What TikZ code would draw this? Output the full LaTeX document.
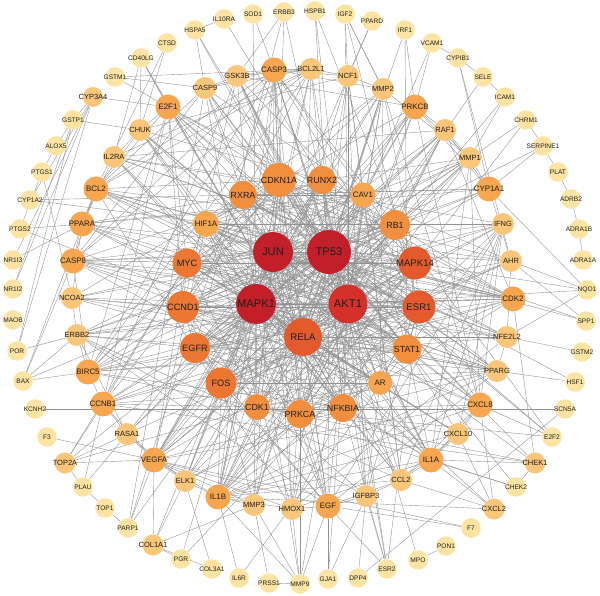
\documentclass[tikz,border=0pt]{standalone}
\usepackage{fontspec}
\setmainfont{Liberation Sans}
\definecolor{c1}{HTML}{C21F2B}
\definecolor{c2}{HTML}{D3322B}
\definecolor{c3}{HTML}{E35A2D}
\definecolor{c4}{HTML}{EC7733}
\definecolor{c5}{HTML}{F28F3E}
\definecolor{c6}{HTML}{F6A64E}
\definecolor{c7}{HTML}{FAC67A}
\definecolor{c8}{HTML}{FDE4A2}
\definecolor{edgecol}{HTML}{929292}
\pgfdeclarelayer{bg}
\pgfsetlayers{bg,main}
\tikzset{
 gene/.style={circle,inner sep=0pt,draw=none},
 lab/.style={inner sep=0pt,text=black!88},
 o/.style={gene,fill=c8,minimum size=19.5pt,label={[lab,font=\fontsize{6.6}{7}\selectfont]center:#1}},
 m7/.style={gene,fill=c7,minimum size=22pt,label={[lab,font=\fontsize{7.5}{8}\selectfont]center:#1}},
 m6/.style={gene,fill=c6,minimum size=25pt,label={[lab,font=\fontsize{7.9}{8}\selectfont]center:#1}},
 i5/.style={gene,fill=c5,minimum size=28pt,label={[lab,font=\fontsize{8.9}{9}\selectfont]center:#1}},
 i4/.style={gene,fill=c4,minimum size=30pt,label={[lab,font=\fontsize{9.2}{10}\selectfont]center:#1}},
 i3/.style={gene,fill=c3,minimum size=33pt,label={[lab,font=\fontsize{9.6}{10}\selectfont]center:#1}},
 core/.style={gene,fill=c1,minimum size=40pt,label={[lab,font=\fontsize{11.2}{12}\selectfont]center:#1}},
 e/.style={draw=edgecol,line width=0.38pt},
}
\newcommand\G[5][]{\node[#5={#2},#1] (#2) at (#3,#4) {};}
\begin{document}
\begin{tikzpicture}[x=1pt,y=-1pt]
\useasboundingbox (0,0) rectangle (600,596);
% outer ring
\G{IL10RA}{224}{19}{o}
\G{SOD1}{253}{14}{o}
\G{ERBB3}{284}{12}{o}
\G{HSPB1}{315}{11}{o}
\G{IGF2}{345}{14}{o}
\G{PPARD}{372}{21}{o}
\G{IRF1}{405}{30}{o}
\G{VCAM1}{432}{43}{o}
\G{CYPIB1}{458}{58}{o}
\G{SELE}{483}{77}{o}
\G{ICAM1}{505}{97}{o}
\G{CHRM1}{526}{120}{o}
\G{SERPINE1}{543}{146}{o}
\G{PLAT}{558}{172}{o}
\G{ADRB2}{571}{199}{o}
\G{ADRA1B}{579}{229}{o}
\G{ADRA1A}{583}{260}{o}
\G{NQO1}{587}{290}{o}
\G{SPP1}{586}{321}{o}
\G{GSTM2}{582}{352}{o}
\G{HSF1}{575}{382}{o}
\G{SCN5A}{565}{409}{o}
\G{E2F2}{552}{437}{o}
\G[minimum size=21pt]{CHEK1}{535}{463}{m7}
\G{CHEK2}{516}{487}{o}
\G[minimum size=21pt]{CXCL2}{494}{509}{m7}
\G{F7}{471}{528}{o}
\G{PON1}{446}{546}{o}
\G{MPO}{418}{560}{o}
\G{ESR2}{387}{569}{o}
\G{DPP4}{358}{578}{o}
\G{GJA1}{328}{579}{o}
\G{MMP9}{300}{584}{o}
\G{PRSS1}{269}{583}{o}
\G{IL6R}{239}{578}{o}
\G{COL3A1}{212}{569}{o}
\G{PGR}{181}{559}{o}
\G[minimum size=21pt]{COL1A1}{153}{545}{m7}
\G{PARP1}{128}{528}{o}
\G{TOP1}{105}{508}{o}
\G{PLAU}{83}{487}{o}
\G[minimum size=21pt]{TOP2A}{65}{463}{m7}
\G{F3}{47}{437}{o}
\G{KCNH2}{35}{409}{o}
\G{BAX}{23}{381}{o}
\G{POR}{17}{351}{o}
\G{MAOB}{13}{320}{o}
\G{NR1I2}{13}{289}{o}
\G{NR1I3}{13}{260}{o}
\G{PTGS2}{20}{229}{o}
\G{CYP1A2}{30}{200}{o}
\G{PTGS1}{42}{172}{o}
\G{ALOX5}{56}{146}{o}
\G{GSTP1}{73}{120}{o}
\G[minimum size=20pt]{CYP3A4}{93}{97}{m7}
\G{GSTM1}{115}{77}{o}
\G{CD40LG}{141}{58}{o}
\G{CTSD}{167}{43}{o}
\G{HSPA5}{195}{30}{o}
% middle ring
\G{CASP9}{205}{88}{m7}
\G{GSK3B}{237}{76}{m7}
\G{CASP3}{274}{70}{m6}
\G{BCL2L1}{311}{69}{m7}
\G{NCF1}{348}{76}{m7}
\G{MMP2}{383}{89}{m7}
\G{PRKCB}{415}{107}{m6}
\G{RAF1}{445}{130}{m7}
\G{MMP1}{470}{158}{m7}
\G{CYP1A1}{489}{189}{m6}
\G{IFNG}{503}{224}{m7}
\G{AHR}{511}{261}{m7}
\G{CDK2}{513}{299}{m6}
\G{NFE2L2}{507}{337}{m7}
\G{PPARG}{497}{371}{m7}
\G{CXCL8}{480}{405}{m6}
\G{CXCL10}{458}{434}{m7}
\G{IL1A}{431}{460}{m6}
\G{CCL2}{401}{480}{m7}
\G{IGFBP3}{366}{496}{m7}
\G{EGF}{328}{506}{m6}
\G{HMOX1}{292}{509}{m7}
\G{MMP3}{254}{505}{m7}
\G{IL1B}{218}{497}{m6}
\G{ELK1}{185}{481}{m7}
\G{VEGFA}{154}{460}{m6}
\G{RASA1}{127}{434}{m7}
\G{CCNB1}{103}{404}{m6}
\G{BIRC5}{88}{372}{m6}
\G{ERBB2}{77}{335}{m7}
\G{NCOA2}{72}{298}{m7}
\G{CASP8}{73}{261}{m6}
\G{PPARA}{82}{224}{m6}
\G{BCL2}{96}{189}{m6}
\G{IL2RA}{114}{157}{m7}
\G{CHUK}{140}{130}{m7}
\G{E2F1}{168}{107}{m6}
% inner ring
\G[minimum size=34pt]{CDKN1A}{279}{180}{i5}
\G{RUNX2}{322}{180}{i5}
\G{RXRA}{243}{195}{i5}
\G[minimum size=25pt]{CAV1}{363}{195}{m6}
\G[minimum size=26pt]{HIF1A}{206}{224}{m6}
\G[minimum size=30pt]{RB1}{395}{225}{i5}
\G[minimum size=29pt]{MYC}{187}{263}{i4}
\G{MAPK14}{415}{263}{i3}
\G[minimum size=32pt]{CCND1}{183}{307}{i4}
\G{ESR1}{419}{307}{i3}
\G{EGFR}{195}{348}{i4}
\G[minimum size=29pt]{STAT1}{407}{349}{i5}
\G[minimum size=31pt]{FOS}{221}{383}{i4}
\G[minimum size=24pt]{AR}{380}{383}{m6}
\G[minimum size=26pt]{CDK1}{257}{407}{i5}
\G[minimum size=28pt]{PRKCA}{300}{414}{i5}
\G[minimum size=28pt]{NFKBIA}{343}{408}{i5}
% core
\G{JUN}{273}{252}{core}
\G[minimum size=44pt]{TP53}{329}{252}{core}
\G{MAPK1}{256}{304}{core}
\G[fill=c2,minimum size=39pt]{AKT1}{348}{304}{core}
\G[minimum size=38pt]{RELA}{303}{337}{i3}
\begin{pgfonlayer}{bg}
\fill[white] (0,0) rectangle (600,596);
\foreach \t in {TP53,MAPK1,AKT1,RELA,MYC,CCND1,FOS,EGFR,ESR1,MAPK14,STAT1,CDKN1A,RUNX2,HIF1A,RB1,CDK1,PRKCA,NFKBIA,AR,CASP3,CASP9,BCL2L1,MMP2,RAF1,MMP1,IFNG,CDK2,NFE2L2,PPARG,CXCL8,IL1A,CCL2,EGF,HMOX1,MMP3,IL1B,ELK1,VEGFA,BIRC5,CASP8,BCL2,CHUK,E2F1,NCOA2,PPARD,COL1A1} \draw[e] (JUN) -- (\t);
\foreach \t in {MAPK1,AKT1,RELA,MYC,CCND1,FOS,EGFR,ESR1,MAPK14,STAT1,CDKN1A,RUNX2,RXRA,HIF1A,RB1,CDK1,PRKCA,NFKBIA,AR,CAV1,CASP3,CASP9,GSK3B,BCL2L1,NCF1,MMP2,PRKCB,MMP1,CYP1A1,AHR,CDK2,NFE2L2,PPARG,CXCL8,IL1A,IGFBP3,EGF,HMOX1,IL1B,VEGFA,CCNB1,BIRC5,ERBB2,NCOA2,CASP8,PPARA,BCL2,E2F1,HSPB1,IRF1,SERPINE1,HSF1,E2F2,CHEK1,CHEK2,BAX,PARP1,TOP2A,SPP1,MPO,HSPA5} \draw[e] (TP53) -- (\t);
\foreach \t in {AKT1,RELA,MYC,CCND1,FOS,EGFR,ESR1,MAPK14,STAT1,CDKN1A,RUNX2,RXRA,HIF1A,RB1,CDK1,PRKCA,NFKBIA,AR,CAV1,CASP3,GSK3B,BCL2L1,PRKCB,RAF1,MMP1,IFNG,AHR,CDK2,NFE2L2,PPARG,CXCL8,CXCL10,IL1A,CCL2,EGF,MMP3,IL1B,ELK1,VEGFA,RASA1,BIRC5,ERBB2,CASP8,PPARA,IL2RA,CHUK,SOD1,MMP9,PGR} \draw[e] (MAPK1) -- (\t);
\foreach \t in {RELA,MYC,CCND1,FOS,EGFR,ESR1,MAPK14,STAT1,CDKN1A,RUNX2,RXRA,HIF1A,RB1,CDK1,PRKCA,NFKBIA,AR,CAV1,CASP3,CASP9,GSK3B,BCL2L1,NCF1,MMP2,PRKCB,RAF1,IFNG,CDK2,NFE2L2,CXCL8,IL1A,IGFBP3,EGF,HMOX1,IL1B,VEGFA,CCNB1,BIRC5,ERBB2,CASP8,PPARA,BCL2,CHUK,E2F1,ERBB3,HSPB1,IGF2,HSPA5,NQO1,GJA1,ESR2} \draw[e] (AKT1) -- (\t);
\foreach \t in {MYC,CCND1,FOS,EGFR,ESR1,MAPK14,STAT1,CDKN1A,RXRA,HIF1A,RB1,CDK1,PRKCA,NFKBIA,AR,CAV1,CASP3,BCL2L1,NCF1,MMP2,MMP1,IFNG,AHR,NFE2L2,PPARG,CXCL8,CXCL10,IL1A,CCL2,EGF,HMOX1,MMP3,IL1B,VEGFA,BIRC5,CASP8,PPARA,BCL2,IL2RA,CHUK,E2F1,VCAM1,ICAM1,CD40LG,PTGS2,CXCL2,SELE} \draw[e] (RELA) -- (\t);
\foreach \t in {CCND1,ESR1,MAPK14,STAT1,CDKN1A,RB1,CDK1,AR,CDK2,E2F1,CCNB1,HIF1A,VEGFA,TOP2A,PPARG,CXCL10,CAV1,RUNX2} \draw[e] (MYC) -- (\t);
\foreach \t in {ESR1,MAPK14,STAT1,CDKN1A,RB1,CDK1,CDK2,E2F1,AR,EGFR,FOS,PPARG,NCOA2,PRKCA,GSK3B,IL1A,MMP1,IFNG} \draw[e] (CCND1) -- (\t);
\foreach \t in {ESR1,MAPK14,STAT1,CAV1,PRKCA,EGF,ERBB2,ERBB3,RASA1,CDK2,AR,FOS,NFKBIA,IGFBP3,PRKCB,RB1,CYP1A1} \draw[e] (EGFR) -- (\t);
\foreach \t in {ESR1,MAPK14,STAT1,NFKBIA,AR,EGF,IL1B,MMP1,MMP3,ELK1,RUNX2,CDKN1A,CDK2,PPARG,RB1,AHR} \draw[e] (FOS) -- (\t);
\foreach \t in {MAPK14,STAT1,CDKN1A,RB1,AR,CAV1,RXRA,NCOA2,PPARG,CCNB1,BCL2,IGFBP3,HIF1A,CASP8,ERBB2,PGR,ESR2,IGF2,BIRC5,VEGFA} \draw[e] (ESR1) -- (\t);
\foreach \t in {STAT1,CDKN1A,RB1,HIF1A,NFKBIA,PRKCA,RXRA,IL1B,ELK1,NQO1,SPP1,HSPB1,CASP3,IL2RA,CASP8,MMP2,GSK3B} \draw[e] (MAPK14) -- (\t);
\foreach \t in {CDKN1A,RB1,HIF1A,NFKBIA,IFNG,IRF1,IL6R,CXCL10,PRKCA,CAV1,BCL2,BIRC5,CASP9,CHUK,IL1A} \draw[e] (STAT1) -- (\t);
\foreach \t in {RB1,CDK1,CDK2,CCNB1,E2F1,HIF1A,PRKCA,RXRA,CASP3,BIRC5,BCL2,IL1B,GSK3B,ERBB3,EGF} \draw[e] (CDKN1A) -- (\t);
\foreach \t in {RB1,HIF1A,CDK1,CASP8,MMP1,MMP3,VEGFA,IL10RA,ESR2,NFKBIA,AHR,CHUK} \draw[e] (RUNX2) -- (\t);
\foreach \t in {RB1,PPARG,PPARA,NCOA2,CAV1,NFE2L2,AHR,CYP1A1,CASP9,IL1A} \draw[e] (RXRA) -- (\t);
\foreach \t in {VEGFA,CAV1,HMOX1,NFE2L2,EGF,CDK2,RB1,PRKCB,MMP2,CHEK1,NFKBIA,IFNG} \draw[e] (HIF1A) -- (\t);
\foreach \t in {CDK1,CDK2,E2F1,E2F2,CCNB1,AR,BCL2,PRKCA,CASP3,CASP8,RAF1} \draw[e] (RB1) -- (\t);
\foreach \t in {PRKCA,NFKBIA,MMP1,CASP9,ERBB2,IL2RA,CCL2,PPARA,NCF1,IL1B} \draw[e] (CAV1) -- (\t);
\foreach \t in {PRKCA,CDK1,NCOA2,CCNB1,IGFBP3,ELK1,CASP8,GSK3B,CDK2,MMP2} \draw[e] (AR) -- (\t);
\foreach \t in {PRKCA,NFKBIA,CCNB1,CDK2,CHEK1,CHEK2,E2F2,BIRC5,CASP9,TOP2A,PPARG} \draw[e] (CDK1) -- (\t);
\foreach \t in {NFKBIA,PRKCB,RAF1,CHRM1,CASP3,IL1B,EGF,CXCL10,ELK1,MMP9} \draw[e] (PRKCA) -- (\t);
\foreach \t in {IL1A,IL1B,CCL2,CXCL8,CHUK,CD40LG,BIRC5,ESR2,IL2RA,CASP8,HMOX1} \draw[e] (NFKBIA) -- (\t);
\foreach \t in {CASP3,CASP8,GSK3B,BCL2L1,HSPA5,GSTM1,BCL2,PARP1} \draw[e] (CASP9) -- (\t);
\foreach \t in {CASP3,BCL2L1,ERBB3,IL1A,CCNB1,PRKCB} \draw[e] (GSK3B) -- (\t);
\foreach \t in {BCL2L1,CASP8,BCL2,PARP1,SOD1,BIRC5,CCL2,HMOX1,CXCL8,NCF1,MMP2,IL1B} \draw[e] (CASP3) -- (\t);
\foreach \t in {BCL2,BIRC5,CASP8,NCF1,GSTM1,IL2RA,CCND1} \draw[e] (BCL2L1) -- (\t);
\foreach \t in {MMP2,PPARD,IL1B,CCL2,CHUK} \draw[e] (NCF1) -- (\t);
\foreach \t in {MMP1,MMP9,IGF2,VEGFA,MMP3,CXCL8,BIRC5} \draw[e] (MMP2) -- (\t);
\foreach \t in {RAF1,MMP1,CYP1A1,VCAM1,IRF1,CXCL8,ELK1,VEGFA} \draw[e] (PRKCB) -- (\t);
\foreach \t in {MMP1,CYP1A1,ELK1,RASA1,EGFR,CDK2,IL2RA} \draw[e] (RAF1) -- (\t);
\foreach \t in {CYP1A1,ICAM1,CHRM1,CXCL8,IL1A,IL1B,VEGFA} \draw[e] (MMP1) -- (\t);
\foreach \t in {CYPIB1,AHR,NQO1,SERPINE1,CYP1A2,PPARA,ERBB2} \draw[e] (CYP1A1) -- (\t);
\foreach \t in {IL1B,CXCL10,IL1A,IL2RA,CXCL8,CCL2,EGF} \draw[e] (IFNG) -- (\t);
\foreach \t in {NQO1,SPP1,NFE2L2,CYP1A2,RASA1,CYPIB1} \draw[e] (AHR) -- (\t);
\foreach \t in {CCNB1,E2F1,CHEK1,CASP8,IL2RA,BCL2,PPARA} \draw[e] (CDK2) -- (\t);
\foreach \t in {NQO1,GSTM2,HMOX1,PPARG,BIRC5,NCOA2} \draw[e] (NFE2L2) -- (\t);
\foreach \t in {HSF1,PPARA,NCOA2,IL1B,EGF,VEGFA,ERBB2} \draw[e] (PPARG) -- (\t);
\foreach \t in {CXCL10,IL1A,CCL2,E2F2,CXCL2,VEGFA,IL1B} \draw[e] (CXCL8) -- (\t);
\foreach \t in {IL1A,CCL2,CXCL2,IL1B} \draw[e] (CXCL10) -- (\t);
\foreach \t in {CCL2,IL1B,CHEK1,CHEK2,CXCL2,HMOX1} \draw[e] (IL1A) -- (\t);
\foreach \t in {IL1B,IGFBP3,EGF,CXCL2,ERBB2} \draw[e] (CCL2) -- (\t);
\foreach \t in {EGF,ESR2,DPP4,GJA1,IGF2,ERBB2} \draw[e] (IGFBP3) -- (\t);
\foreach \t in {MMP9,GJA1,ESR2,F7,VEGFA,ERBB2,HMOX1} \draw[e] (EGF) -- (\t);
\foreach \t in {MMP9,VEGFA,IL1B,BCL2} \draw[e] (HMOX1) -- (\t);
\foreach \t in {MMP9,PRSS1,IL1B,VEGFA,COL1A1} \draw[e] (MMP3) -- (\t);
\foreach \t in {IL6R,VEGFA,ELK1,CXCL2,MMP9} \draw[e] (IL1B) -- (\t);
\foreach \t in {VEGFA,COL1A1,COL3A1,RASA1} \draw[e] (ELK1) -- (\t);
\foreach \t in {RASA1,CCNB1,TOP2A,PARP1,F7,COL1A1,F3} \draw[e] (VEGFA) -- (\t);
\foreach \t in {CCNB1,PLAU,TOP2A,ERBB2} \draw[e] (RASA1) -- (\t);
\foreach \t in {BIRC5,TOP2A,PLAU,CHEK1,E2F1} \draw[e] (CCNB1) -- (\t);
\foreach \t in {BAX,CASP8,E2F1,ERBB2} \draw[e] (BIRC5) -- (\t);
\foreach \t in {BAX,POR,NCOA2} \draw[e] (ERBB2) -- (\t);
\foreach \t in {PPARA,PTGS1} \draw[e] (NCOA2) -- (\t);
\foreach \t in {BAX,PPARA,BCL2} \draw[e] (CASP8) -- (\t);
\foreach \t in {PTGS2,BCL2,NR1I3,IL2RA} \draw[e] (PPARA) -- (\t);
\foreach \t in {BAX,E2F1,CHUK,CTSD} \draw[e] (BCL2) -- (\t);
\foreach \t in {CHUK,CD40LG} \draw[e] (IL2RA) -- (\t);
\foreach \t in {E2F1,GSTP1,CTSD,CD40LG} \draw[e] (CHUK) -- (\t);
\foreach \t in {CYP3A4,GSTM1,CD40LG,E2F2} \draw[e] (E2F1) -- (\t);
\foreach \a/\b in {IL10RA/HSPA5,VCAM1/CYPIB1,CYPIB1/SELE,SELE/ICAM1,CHRM1/SERPINE1,SERPINE1/PLAT,PLAT/ADRB2,ADRB2/ADRA1B,ADRA1B/ADRA1A,KCNH2/SCN5A,CHEK1/CHEK2,MPO/PON1,MMP9/PRSS1,COL1A1/PGR,COL1A1/COL3A1,PARP1/TOP1,TOP1/PLAU,PLAU/TOP2A,GSTP1/ALOX5,ALOX5/PTGS1,PTGS1/PTGS2,GSTP1/CYP3A4,CYP1A2/CYP3A4,NR1I3/CYP3A4,NR1I2/CYP3A4,NR1I2/GSTP1,POR/CYP3A4,POR/GSTP1,SCN5A/DPP4,IGF2/MMP2}
  \draw[e] (\a) -- (\b);
\end{pgfonlayer}
\end{tikzpicture}
\end{document}
